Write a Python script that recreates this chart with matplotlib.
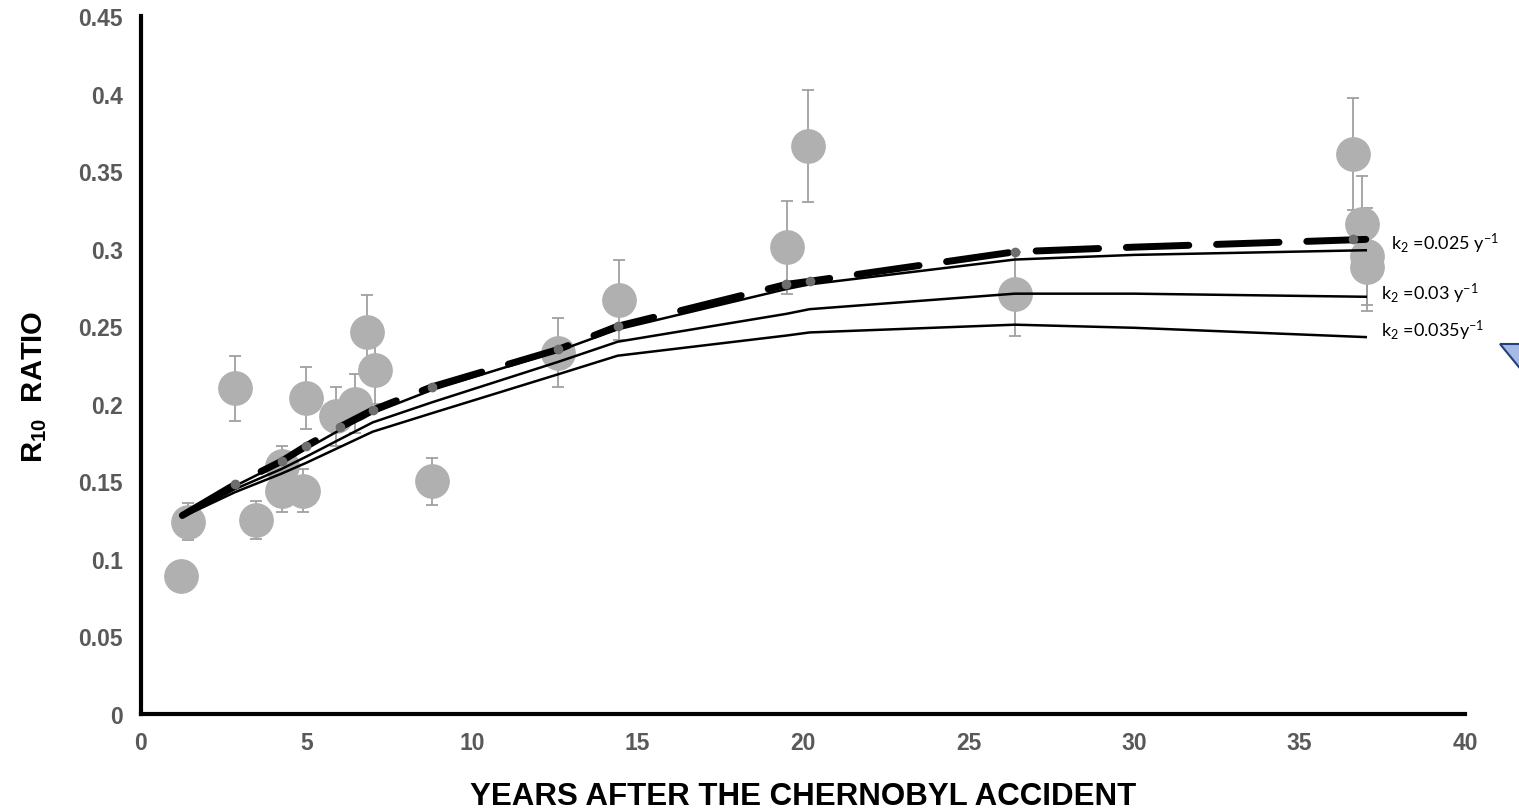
import matplotlib
matplotlib.use("Agg")
import matplotlib.pyplot as plt
from matplotlib.patches import Polygon

plt.rcParams['font.family'] = ['Liberation Sans', 'DejaVu Sans']
plt.rcParams['mathtext.default'] = 'regular'

# measured R10 ratios (years after the accident, value, +/- error)
t_obs = [1.21, 1.42, 2.84, 3.47, 4.25, 4.25, 4.9, 4.98, 5.9, 6.47, 6.83, 7.07,
         8.79, 12.6, 14.44, 19.52, 20.15, 26.4, 36.6, 36.9, 37.05, 37.05]
r_obs = [0.089, 0.124, 0.210, 0.125, 0.160, 0.144, 0.144, 0.204, 0.192, 0.200, 0.246, 0.222,
         0.150, 0.233, 0.267, 0.301, 0.366, 0.271, 0.361, 0.316, 0.295, 0.288]
r_err = [0.0, 0.012, 0.021, 0.012, 0.013, 0.014, 0.014, 0.020, 0.019, 0.019, 0.024, 0.022,
         0.015, 0.022, 0.026, 0.030, 0.036, 0.027, 0.036, 0.031, 0.031, 0.028]

# model curves
t_mod = [1.25, 2.84, 4.25, 5.0, 6.0, 7.0, 8.8, 12.6, 14.4, 19.5, 20.2, 26.4, 30.0, 37.0]
r_fit = [0.128, 0.148, 0.163, 0.173, 0.185, 0.196, 0.211, 0.235, 0.250, 0.277, 0.279, 0.298, 0.301, 0.306]
r_k025 = [0.128, 0.147, 0.162, 0.171, 0.183, 0.194, 0.209, 0.234, 0.248, 0.274, 0.277, 0.293, 0.296, 0.299]
r_k03 = [0.127, 0.145, 0.158, 0.166, 0.177, 0.188, 0.201, 0.227, 0.240, 0.258, 0.261, 0.271, 0.271, 0.269]
r_k035 = [0.127, 0.143, 0.155, 0.162, 0.172, 0.182, 0.194, 0.219, 0.231, 0.244, 0.246, 0.251, 0.249, 0.243]

# model values at the sampling dates
t_dot = [2.84, 4.25, 5.0, 6.0, 7.0, 8.8, 12.6, 14.4, 19.5, 20.2, 26.4, 36.6]
r_dot = [0.148, 0.163, 0.173, 0.185, 0.196, 0.211, 0.235, 0.250, 0.277, 0.279, 0.298, 0.306]

k_labels = [r'k$_2$ =0.025 y$^{-1}$', r'k$_2$ =0.03 y$^{-1}$', r'k$_2$ =0.035y$^{-1}$']
k_label_pos = [(37.75, 0.304), (37.45, 0.2715), (37.45, 0.2475)]

fig = plt.figure(figsize=(15.19, 8.12), dpi=100)
ax = fig.add_axes([0.0928, 0.1195, 0.8717, 0.8595])

ax.errorbar(t_obs, r_obs, yerr=r_err, fmt='o', ms=24, mfc='#b0b0b0', mec='#b0b0b0',
            ecolor='#a0a0a0', elinewidth=1.3, capsize=4, capthick=1.3, zorder=2)

ax.plot(t_mod, r_k025, color='black', lw=1.8, zorder=3)
ax.plot(t_mod, r_k03, color='black', lw=1.8, zorder=3)
ax.plot(t_mod, r_k035, color='black', lw=1.8, zorder=3)
ax.plot(t_mod, r_fit, color='black', lw=5, dashes=(9, 4),
        dash_capstyle='round', zorder=4)
ax.plot(t_dot, r_dot, 'o', ms=6, color='#6e6e6e', zorder=5)

for lab, (x, y) in zip(k_labels, k_label_pos):
    ax.text(x, y, lab, family=['Lato', 'DejaVu Sans'], fontsize=13,
            va='center', ha='left', zorder=6)

ax.set_xlim(0, 40)
ax.set_ylim(0, 0.45)
ax.set_xticks(range(0, 41, 5))
ax.set_yticks([0, 0.05, 0.1, 0.15, 0.2, 0.25, 0.3, 0.35, 0.4, 0.45])
ax.set_yticklabels(['0', '0.05', '0.1', '0.15', '0.2', '0.25', '0.3', '0.35', '0.4', '0.45'])
ax.tick_params(length=0, labelsize=16.5, labelcolor='#595959')
ax.tick_params(axis='y', pad=13)
ax.tick_params(axis='x', pad=12)
for lbl in ax.get_xticklabels() + ax.get_yticklabels():
    lbl.set_fontweight('bold')

for s in ['top', 'right']:
    ax.spines[s].set_visible(False)
for s in ['left', 'bottom']:
    ax.spines[s].set_linewidth(3)
    ax.spines[s].set_color('black')

ax.set_xlabel('YEARS AFTER THE CHERNOBYL ACCIDENT', fontsize=22.5, fontweight='bold', va='center')
ax.xaxis.set_label_coords(0.5, -0.117)
ax.set_ylabel(r'R$_{10}$  RATIO', fontsize=21, fontweight='bold', va='center')
ax.yaxis.set_label_coords(-0.08, 0.47)

# arrow-head shape cut by the right edge
tri = Polygon([[1500 / 1519, 1 - 345 / 812], [1600 / 1519, 1 - 345 / 812],
               [1555 / 1519, 1 - 412 / 812]], closed=True, transform=fig.transFigure,
              facecolor='#a7b9e5', edgecolor='#22407a', lw=1.5)
fig.patches.append(tri)

fig.savefig('out.png', dpi=100)
